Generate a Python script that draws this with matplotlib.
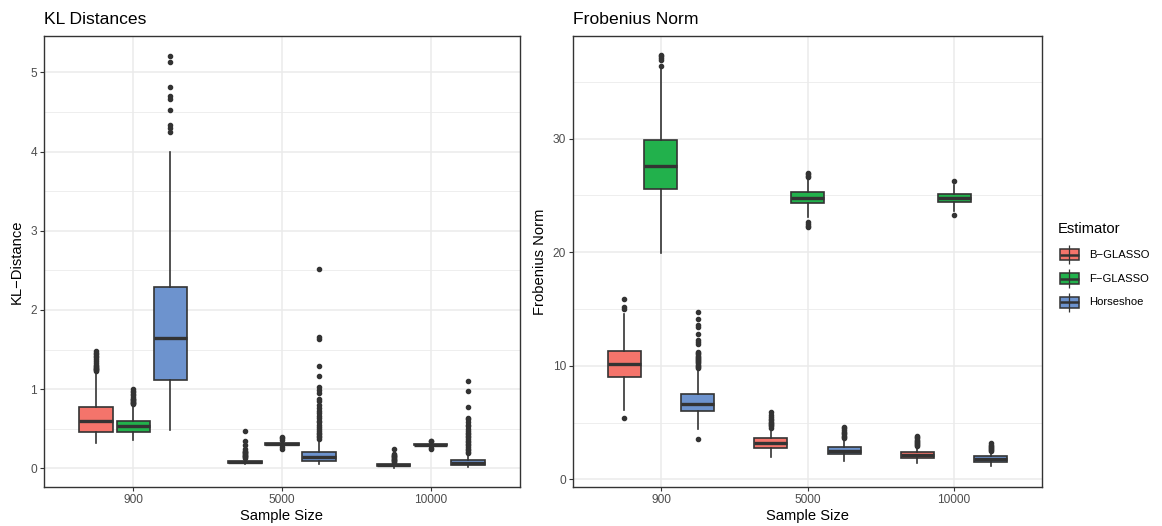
import matplotlib
matplotlib.use("Agg")
import matplotlib.pyplot as plt
from matplotlib.patches import Rectangle
from matplotlib.ticker import MultipleLocator

plt.rcParams["font.family"] = ["Liberation Sans", "DejaVu Sans"]

# ---- categories ----
sample_sizes = ["900", "5000", "10000"]
estimators = ["B\u2212GLASSO", "F\u2212GLASSO", "Horseshoe"]
colors = ["#F4746B", "#22B14C", "#6D93CE"]

# ---- KL distance box statistics: rows = estimator, columns = sample size ----
kl_q1 = [[0.46, 0.070, 0.030], [0.46, 0.295, 0.290], [1.12, 0.092, 0.042]]
kl_med = [[0.60, 0.080, 0.040], [0.535, 0.310, 0.300], [1.65, 0.147, 0.070]]
kl_q3 = [[0.78, 0.092, 0.050], [0.60, 0.325, 0.310], [2.285, 0.200, 0.105]]
kl_lo = [[0.315, 0.050, 0.010], [0.357, 0.280, 0.270], [0.48, 0.060, 0.020]]
kl_hi = [[1.22, 0.125, 0.075], [0.80, 0.345, 0.330], [4.00, 0.360, 0.180]]

kl_b_out = [
    [1.23, 1.24, 1.25, 1.26, 1.27, 1.28, 1.29, 1.31, 1.33, 1.35, 1.38, 1.40, 1.42, 1.44, 1.46, 1.48],
    [0.13, 0.14, 0.15, 0.16, 0.17, 0.18, 0.19, 0.20, 0.21, 0.22, 0.25, 0.29, 0.35, 0.475],
    [0.08, 0.09, 0.10, 0.11, 0.12, 0.13, 0.14, 0.15, 0.16, 0.17, 0.18, 0.245],
]
kl_f_out = [
    [0.81, 0.82, 0.83, 0.84, 0.85, 0.86, 0.87, 0.88, 0.90, 0.92, 0.94, 0.96, 0.98, 1.00],
    [0.24, 0.27, 0.357, 0.38, 0.39],
    [0.25, 0.26, 0.34, 0.345],
]
kl_h_out = [
    [4.25, 4.30, 4.34, 4.52, 4.66, 4.70, 4.82, 5.13, 5.21],
    [0.37, 0.39, 0.41, 0.43, 0.45, 0.47, 0.50, 0.52, 0.55, 0.58, 0.60, 0.63, 0.66,
     0.70, 0.73, 0.76, 0.80, 0.85, 0.88, 0.95, 0.99, 1.03, 1.165, 1.29, 1.63, 1.66, 2.52],
    [0.19, 0.21, 0.23, 0.25, 0.27, 0.29, 0.31, 0.33, 0.35, 0.37, 0.39, 0.41, 0.43,
     0.45, 0.47, 0.50, 0.53, 0.55, 0.58, 0.62, 0.64, 0.77, 0.98, 1.10],
]

# ---- Frobenius norm box statistics ----
fr_q1 = [[9.04, 2.73, 1.85], [25.58, 24.32, 24.40], [6.04, 2.20, 1.55]]
fr_med = [[10.19, 3.17, 2.11], [27.63, 24.81, 24.78], [6.63, 2.52, 1.80]]
fr_q3 = [[11.33, 3.61, 2.41], [29.90, 25.29, 25.14], [7.49, 2.87, 2.03]]
fr_lo = [[6.10, 1.99, 1.41], [19.97, 23.10, 23.60], [4.43, 1.61, 1.17]]
fr_hi = [[14.60, 4.45, 2.85], [36.20, 26.50, 25.90], [9.70, 3.55, 2.34]]

fr_b_out = [
    [5.43, 14.98, 15.20, 15.86],
    [4.55, 4.65, 4.75, 4.85, 4.95, 5.05, 5.20, 5.35, 5.50, 5.70, 5.96],
    [2.90, 3.00, 3.10, 3.20, 3.30, 3.40, 3.50, 3.60, 3.70, 3.81],
]
fr_f_out = [
    [36.40, 36.90, 37.10, 37.25, 37.40],
    [22.20, 22.35, 22.50, 22.70, 26.60, 26.70, 26.85, 27.00],
    [23.26, 26.30],
]
fr_h_out = [
    [3.52, 9.80, 9.90, 10.00, 10.10, 10.20, 10.30, 10.40, 10.50, 10.60, 10.70, 10.80,
     10.90, 11.00, 11.10, 11.20, 11.90, 12.05, 12.25, 12.80, 13.45, 13.60, 14.15, 14.77],
    [3.65, 3.75, 3.85, 3.95, 4.05, 4.20, 4.35, 4.50, 4.63],
    [2.45, 2.55, 2.65, 2.75, 2.85, 2.95, 3.05, 3.17],
]

EDGE = "#333333"
GRID = "#EBEBEB"
DODGE = [-0.25, 0.0, 0.25]
BOX_W = 0.225

fig = plt.figure(figsize=(11.62, 5.26), dpi=100)
W, H = 1162, 526


def px_axes(x0, y0, x1, y1):
    return fig.add_axes([x0 / W, 1 - y1 / H, (x1 - x0) / W, (y1 - y0) / H])


def draw_panel(ax, q1, med, q3, lo, hi, outs, ylim, major, minor, title, ylabel):
    for e in range(3):
        stats = []
        pos = []
        for s in range(3):
            stats.append(dict(med=med[e][s], q1=q1[e][s], q3=q3[e][s],
                              whislo=lo[e][s], whishi=hi[e][s], fliers=outs[e][s]))
            pos.append(s + DODGE[e])
        ax.bxp(stats, positions=pos, widths=BOX_W, patch_artist=True,
               showcaps=False,
               boxprops=dict(facecolor=colors[e], edgecolor=EDGE, linewidth=1.2),
               medianprops=dict(color=EDGE, linewidth=2.4, solid_capstyle="butt"),
               whiskerprops=dict(color=EDGE, linewidth=1.2),
               flierprops=dict(marker="o", markersize=3.0, markerfacecolor=EDGE,
                               markeredgecolor=EDGE, linestyle="none"),
               zorder=3)
    ax.set_xlim(-0.6, 2.6)
    ax.set_ylim(*ylim)
    ax.set_xticks(range(3))
    ax.set_xticklabels(sample_sizes)
    ax.yaxis.set_major_locator(MultipleLocator(major))
    ax.yaxis.set_minor_locator(MultipleLocator(minor))
    ax.grid(True, which="major", color=GRID, linewidth=1.1, zorder=0)
    ax.grid(True, which="minor", axis="y", color=GRID, linewidth=0.6, zorder=0)
    ax.set_axisbelow(True)
    ax.tick_params(which="major", length=2.8, width=0.8, color=EDGE,
                   labelsize=8.6, labelcolor="#4D4D4D", pad=2.2)
    ax.tick_params(which="minor", length=0)
    for sp in ax.spines.values():
        sp.set_color(EDGE)
        sp.set_linewidth(1.0)
    ax.set_xlabel("Sample Size", fontsize=10.6, color="black", labelpad=2.5)
    ax.set_ylabel(ylabel, fontsize=10.6, color="black", labelpad=4.5)
    ax.set_title(title, loc="left", fontsize=12.6, pad=8.6, x=0.0)


ax1 = px_axes(44, 36, 520, 487)
draw_panel(ax1, kl_q1, kl_med, kl_q3, kl_lo, kl_hi,
           [kl_b_out, kl_f_out, kl_h_out], (-0.236, 5.46), 1, 0.5,
           "KL Distances", "KL\u2212Distance")

ax2 = px_axes(573, 36, 1042, 487)
draw_panel(ax2, fr_q1, fr_med, fr_q3, fr_lo, fr_hi,
           [fr_b_out, fr_f_out, fr_h_out], (-0.68, 39.05), 10, 5,
           "Frobenius Norm", "Frobenius Norm")

# ---- legend with boxplot key glyphs ----
leg = px_axes(1050, 215, 1160, 315)
leg.set_xlim(1050, 1160)
leg.set_ylim(315, 215)
leg.axis("off")
leg.text(1057.5, 229, "Estimator", fontsize=10.6, va="center", ha="left")
row_y = [254.7, 278.5, 302.0]
for y, c, name in zip(row_y, colors, estimators):
    leg.plot([1069, 1069], [y - 9.5, y + 9.5], color=EDGE, lw=0.9, solid_capstyle="butt")
    leg.add_patch(Rectangle((1059.5, y - 5.5), 19, 11, facecolor=c, edgecolor=EDGE, lw=1.1))
    leg.plot([1059.5, 1078.5], [y, y], color=EDGE, lw=1.8, solid_capstyle="butt")
    leg.text(1089, y, name, fontsize=8.1, va="center", ha="left")

fig.savefig("out.png", dpi=100)
